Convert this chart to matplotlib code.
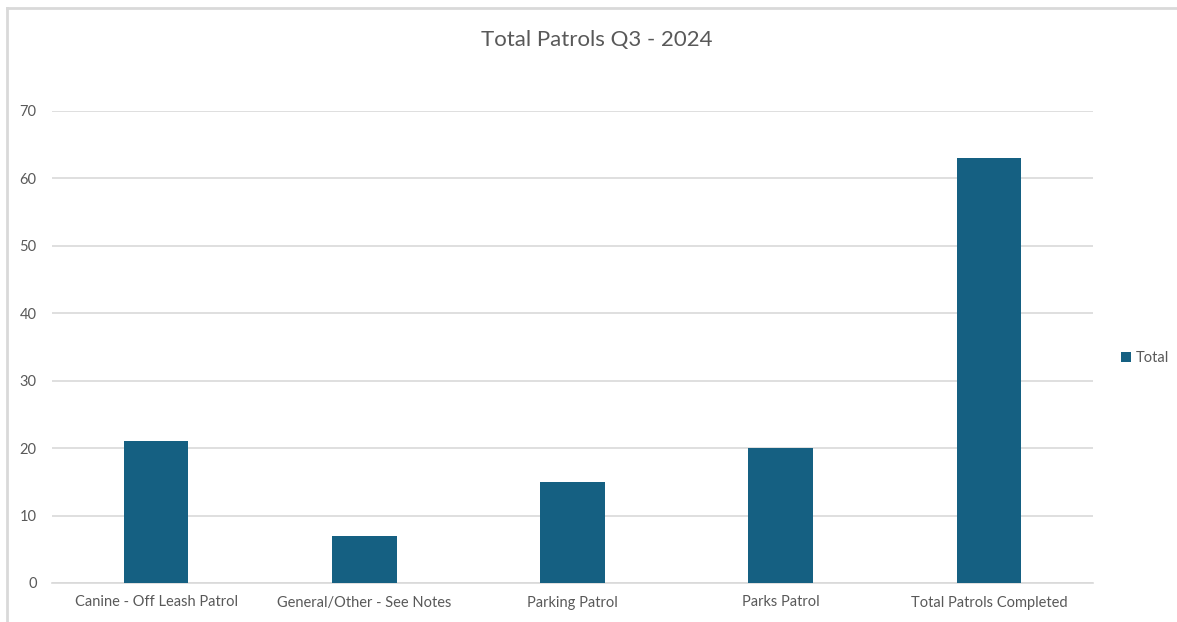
import matplotlib.pyplot as plt
from matplotlib.lines import Line2D

categories = ["Canine - Off Leash Patrol", "General/Other - See Notes",
              "Parking Patrol", "Parks Patrol", "Total Patrols Completed"]
totals = [21, 7, 15, 20, 63]
yticks = [0, 10, 20, 30, 40, 50, 60, 70]

bar_color = "#156082"
text_color = "#595959"
grid_color = "#D9D9D9"

plt.rcParams["font.family"] = ["Lato", "DejaVu Sans"]

fig = plt.figure(figsize=(11.77, 6.22), dpi=100)
ax = fig.add_axes([52 / 1177, 39 / 622, 1041 / 1177, 472 / 622])

x = range(len(categories))
ax.bar(x, totals, width=0.31, color=bar_color, label="Total", zorder=3)

ax.set_xlim(-0.5, len(categories) - 0.5)
ax.set_ylim(0, 70)
ax.set_yticks(yticks)
ax.set_xticks(list(x))
ax.set_xticklabels(categories)
ax.yaxis.grid(True, color=grid_color, linewidth=1.2, zorder=0)
for side in ["top", "right", "left"]:
    ax.spines[side].set_visible(False)
ax.spines["bottom"].set_color(grid_color)
ax.spines["bottom"].set_linewidth(1.2)
ax.tick_params(axis="both", length=0, labelsize=10.5, colors=text_color)
ax.tick_params(axis="y", pad=11)
ax.tick_params(axis="x", pad=9)

fig.text(597 / 1177, 1 - 40 / 622, "Total Patrols Q3 - 2024",
         ha="center", va="center", fontsize=16, color=text_color)

fig.legend(loc="center left", bbox_to_anchor=(1108 / 1177, 1 - 358 / 622),
           frameon=False, fontsize=10.5, labelcolor=text_color,
           handlelength=0.7, handleheight=0.7, handletextpad=0.3)

# chart frame: top and left edges only
top = 1 - 8 / 622
left = 7 / 1177
fig.add_artist(Line2D([left, 1.0], [top, top], transform=fig.transFigure,
                      color=grid_color, linewidth=2))
fig.add_artist(Line2D([left, left], [0.0, top], transform=fig.transFigure,
                      color=grid_color, linewidth=2))

fig.savefig("out.png", dpi=100)
